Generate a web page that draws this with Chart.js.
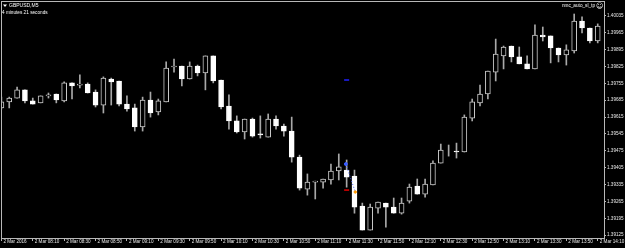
<!DOCTYPE html>
<html>
<head>
<meta charset="utf-8">
<script src="https://cdn.jsdelivr.net/npm/chart.js@4.4.1/dist/chart.umd.min.js"></script>
<style>
  html, body { margin: 0; padding: 0; background: #000; }
  #chart { display: block; }
</style>
</head>
<body>
<canvas id="chart" width="625" height="248"></canvas>
<script>
// GBPUSD, M5 - 2 Mar 2016, 07:50 .. 14:10
const times = [
  "07:50", "07:55", "08:00", "08:05", "08:10", "08:15", "08:20", "08:25", "08:30", "08:35",
  "08:40", "08:45", "08:50", "08:55", "09:00", "09:05", "09:10", "09:15", "09:20", "09:25",
  "09:30", "09:35", "09:40", "09:45", "09:50", "09:55", "10:00", "10:05", "10:10", "10:15",
  "10:20", "10:25", "10:30", "10:35", "10:40", "10:45", "10:50", "10:55", "11:00", "11:05",
  "11:10", "11:15", "11:20", "11:25", "11:30", "11:35", "11:40", "11:45", "11:50", "11:55",
  "12:00", "12:05", "12:10", "12:15", "12:20", "12:25", "12:30", "12:35", "12:40", "12:45",
  "12:50", "12:55", "13:00", "13:05", "13:10", "13:15", "13:20", "13:25", "13:30", "13:35",
  "13:40", "13:45", "13:50", "13:55", "14:00", "14:05", "14:10",
];

const opens = [
  1.39653, 1.39678, 1.39694, 1.39728, 1.39682, 1.39674, 1.39703, 1.39711, 1.39682, 1.39757,
  1.39748, 1.39752, 1.39719, 1.39665, 1.39773, 1.39765, 1.39669, 1.39653, 1.39574, 1.39686,
  1.39636, 1.39678, 1.39823, 1.39827, 1.39773, 1.39827, 1.39798, 1.39869, 1.39769, 1.39661,
  1.39599, 1.39553, 1.39607, 1.39545, 1.39532, 1.39607, 1.39578, 1.39557, 1.39449, 1.39316,
  1.39345, 1.39345, 1.39354, 1.39391, 1.39395, 1.39370, 1.39246, 1.39146, 1.39237, 1.39258,
  1.39241, 1.39216, 1.39266, 1.39329, 1.39295, 1.39333, 1.39424, 1.39470, 1.39474, 1.39470,
  1.39611, 1.39674, 1.39711, 1.39802, 1.39869, 1.39910, 1.39865, 1.39836, 1.39815, 1.39956,
  1.39952, 1.39902, 1.39873, 1.39890, 1.40014, 1.39985, 1.39931,
];
const highs = [
  1.39698, 1.39698, 1.39740, 1.39728, 1.39694, 1.39703, 1.39715, 1.39711, 1.39761, 1.39757,
  1.39790, 1.39757, 1.39728, 1.39782, 1.39777, 1.39765, 1.39703, 1.39669, 1.39698, 1.39719,
  1.39690, 1.39844, 1.39856, 1.39827, 1.39844, 1.39831, 1.39869, 1.39869, 1.39769, 1.39707,
  1.39620, 1.39607, 1.39611, 1.39620, 1.39628, 1.39620, 1.39586, 1.39615, 1.39457, 1.39379,
  1.39349, 1.39358, 1.39420, 1.39462, 1.39437, 1.39395, 1.39258, 1.39254, 1.39262, 1.39258,
  1.39279, 1.39279, 1.39337, 1.39358, 1.39358, 1.39433, 1.39503, 1.39499, 1.39507, 1.39624,
  1.39690, 1.39748, 1.39806, 1.39939, 1.39910, 1.39910, 1.39906, 1.39869, 1.39998, 1.39989,
  1.39952, 1.39902, 1.39915, 1.40043, 1.40031, 1.39985, 1.40002,
];
const lows = [
  1.39649, 1.39653, 1.39694, 1.39674, 1.39669, 1.39674, 1.39694, 1.39674, 1.39678, 1.39690,
  1.39736, 1.39715, 1.39657, 1.39632, 1.39665, 1.39661, 1.39640, 1.39557, 1.39557, 1.39615,
  1.39624, 1.39678, 1.39802, 1.39744, 1.39773, 1.39786, 1.39728, 1.39757, 1.39649, 1.39565,
  1.39549, 1.39524, 1.39532, 1.39528, 1.39532, 1.39565, 1.39536, 1.39428, 1.39312, 1.39291,
  1.39275, 1.39320, 1.39337, 1.39354, 1.39324, 1.39216, 1.39146, 1.39146, 1.39216, 1.39158,
  1.39216, 1.39212, 1.39258, 1.39295, 1.39283, 1.39333, 1.39424, 1.39453, 1.39445, 1.39470,
  1.39599, 1.39661, 1.39690, 1.39765, 1.39815, 1.39844, 1.39836, 1.39815, 1.39815, 1.39931,
  1.39840, 1.39844, 1.39831, 1.39881, 1.39964, 1.39923, 1.39923,
];
const closes = [
  1.39678, 1.39694, 1.39728, 1.39682, 1.39669, 1.39703, 1.39707, 1.39686, 1.39757, 1.39744,
  1.39752, 1.39715, 1.39665, 1.39777, 1.39761, 1.39669, 1.39649, 1.39574, 1.39686, 1.39632,
  1.39682, 1.39819, 1.39827, 1.39773, 1.39827, 1.39798, 1.39869, 1.39765, 1.39657, 1.39599,
  1.39553, 1.39607, 1.39536, 1.39541, 1.39607, 1.39578, 1.39557, 1.39449, 1.39320, 1.39345,
  1.39349, 1.39358, 1.39391, 1.39408, 1.39366, 1.39241, 1.39146, 1.39241, 1.39262, 1.39241,
  1.39216, 1.39258, 1.39324, 1.39295, 1.39337, 1.39424, 1.39478, 1.39470, 1.39470, 1.39615,
  1.39678, 1.39711, 1.39806, 1.39877, 1.39906, 1.39865, 1.39836, 1.39815, 1.39956, 1.39948,
  1.39902, 1.39873, 1.39894, 1.40014, 1.39985, 1.39931, 1.39993,
];

// price scale labels on the right
const priceTicks = [
  1.40035, 1.39965, 1.39895, 1.39825, 1.39755, 1.39685, 1.39615,
  1.39545, 1.39475, 1.39405, 1.39335, 1.39265, 1.39195, 1.39125,
];
// time scale labels, one every 4 bars
const timeTickBars = [0, 4, 8, 12, 16, 20, 24, 28, 32, 36, 40, 44, 48, 52, 56, 60, 64, 68, 72, 76];
const timeTickLabels = [
  "2 Mar 2016", "2 Mar 08:10", "2 Mar 08:30", "2 Mar 08:50", "2 Mar 09:10",
  "2 Mar 09:30", "2 Mar 09:50", "2 Mar 10:10", "2 Mar 10:30", "2 Mar 10:50",
  "2 Mar 11:10", "2 Mar 11:30", "2 Mar 11:50", "2 Mar 12:10", "2 Mar 12:30",
  "2 Mar 12:50", "2 Mar 13:10", "2 Mar 13:30", "2 Mar 13:50", "2 Mar 14:10",
];

// indicator marks (nmc_auto_sl_tp)
const slBar = 44, slPrice = 1.39769;
const tpBar = 44, tpPrice = 1.39312;
const tradeBars = [43.9, 45.1];
const tradePrices = [1.39420, 1.39304];

const FONT = "'Liberation Sans', Arial, sans-serif";
const AXIS = "#b8b8b8";
const WICK = "#a8a8a8";

const isBear = i => closes[i] < opens[i];

const frame = {
  id: "frame",
  afterDraw(chart) {
    const { ctx, chartArea: a } = chart;
    ctx.save();
    ctx.strokeStyle = AXIS;
    ctx.lineWidth = 1;
    ctx.strokeRect(Math.round(a.left) + 0.5, Math.round(a.top) + 0.5,
      Math.round(a.right - a.left), Math.round(a.bottom - a.top));
    ctx.fillStyle = "#fff";
    ctx.font = "5px " + FONT;
    ctx.textBaseline = "middle";
    // small dropdown triangle + symbol
    ctx.beginPath();
    ctx.moveTo(3, 4.5); ctx.lineTo(7, 4.5); ctx.lineTo(5, 7); ctx.closePath();
    ctx.fill();
    ctx.fillText("GBPUSD,M5", 9, 6);
    ctx.font = "4.7px " + FONT;
    ctx.fillText("4 minutes 21 seconds", 2, 12.5);
    ctx.textAlign = "right";
    ctx.fillText("nmc_auto_sl_tp", 595, 6);
    ctx.font = "7px 'DejaVu Sans', sans-serif";
    ctx.textAlign = "left";
    ctx.fillText("\u263A", 596, 6);
    ctx.restore();
  },
};

new Chart(document.getElementById("chart"), {
  type: "bar",
  data: {
    datasets: [
      {
        // candle bodies
        data: opens.map((o, i) => ({ x: i, y: [o, closes[i]] })),
        barThickness: 5,
        grouped: false,
        borderSkipped: false,
        borderWidth: 1,
        backgroundColor: c => (isBear(c.dataIndex) ? "#ffffff" : "#000000"),
        borderColor: c => (isBear(c.dataIndex) ? "#ffffff" : "#c8c8c8"),
        order: 1,
      },
      {
        // wicks
        data: lows.map((l, i) => ({ x: i, y: [l, highs[i]] })),
        barThickness: 1,
        grouped: false,
        borderWidth: 0,
        backgroundColor: WICK,
        order: 3,
      },
      {
        type: "scatter",
        data: [{ x: slBar, y: slPrice }],
        pointStyle: "line",
        pointRadius: 2.5,
        borderColor: "#2020ff",
        borderWidth: 1.5,
        order: 0,
      },
      {
        type: "scatter",
        data: [{ x: tpBar, y: tpPrice }],
        pointStyle: "line",
        pointRadius: 2.5,
        borderColor: "#e00000",
        borderWidth: 1.5,
        order: 0,
      },
      {
        type: "line",
        data: tradeBars.map((b, i) => ({ x: b, y: tradePrices[i] })),
        borderColor: "#3a5cff",
        borderWidth: 1,
        borderDash: [1, 2],
        pointRadius: [1.5, 1.2],
        pointBackgroundColor: ["#3a5cff", "#ff9a00"],
        pointBorderColor: ["#3a5cff", "#ff9a00"],
        order: 0,
      },
    ],
  },
  options: {
    responsive: false,
    animation: false,
    devicePixelRatio: 1,
    layout: { autoPadding: false, padding: { left: 1, top: 1, right: 0, bottom: 0 } },
    plugins: { legend: { display: false }, tooltip: { enabled: false } },
    scales: {
      x: {
        type: "linear",
        offset: false,
        min: -0.05,
        max: 76.8,
        grid: { offset: false, drawOnChartArea: false, tickLength: 3, color: AXIS },
        border: { display: true, color: AXIS },
        afterBuildTicks: s => { s.ticks = timeTickBars.map(v => ({ value: v })); },
        afterFit: s => { s.height = 10; s.paddingLeft = 0; s.paddingRight = 0; },
        ticks: {
          autoSkip: false,
          maxRotation: 0,
          align: "start",
          padding: -2,
          labelOffset: 2,
          color: "#e8e8e8",
          font: { family: FONT, size: 4.6 },
          callback: v => timeTickLabels[timeTickBars.indexOf(v)],
        },
      },
      y: {
        position: "right",
        min: 1.39113,
        max: 1.40097,
        grid: { drawOnChartArea: false, tickLength: 2, color: AXIS },
        border: { display: true, color: AXIS },
        afterBuildTicks: s => { s.ticks = priceTicks.map(v => ({ value: v })); },
        afterFit: s => { s.width = 21; s.paddingTop = 0; s.paddingBottom = 0; },
        ticks: {
          padding: 1,
          color: "#e8e8e8",
          font: { family: FONT, size: 4.6 },
          callback: v => v.toFixed(5),
        },
      },
    },
  },
  plugins: [frame],
});
</script>
</body>
</html>
